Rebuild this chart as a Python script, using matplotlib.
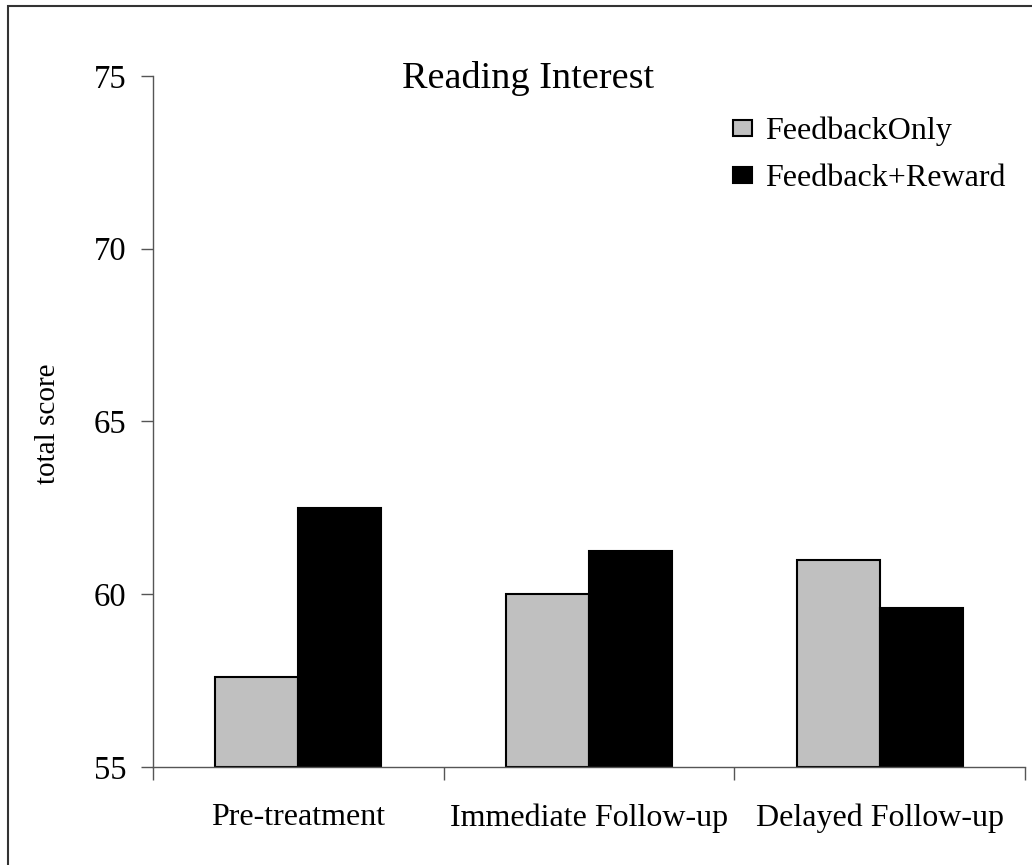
import matplotlib
matplotlib.use("Agg")
import matplotlib.pyplot as plt
from matplotlib.patches import Patch, Rectangle
import numpy as np

categories = ["Pre-treatment", "Immediate Follow-up", "Delayed Follow-up"]
series_names = ["FeedbackOnly", "Feedback+Reward"]
feedback_only = [57.6, 60.0, 61.0]
feedback_reward = [62.5, 61.25, 59.6]
y_ticks = [55, 60, 65, 70, 75]

plt.rcParams['font.family'] = ['Liberation Serif', 'DejaVu Serif']

fig = plt.figure(figsize=(10.32, 8.65), dpi=100)
ax = fig.add_axes([153/1032, 1-767/865, (1025-153)/1032, (767-76)/865])

x = np.arange(len(categories))
w = 1/3.5
ax.bar(x - w/2, np.array(feedback_only) - 55, w, bottom=55, color='#C0C0C0', edgecolor='black', linewidth=1.5)
ax.bar(x + w/2, np.array(feedback_reward) - 55, w, bottom=55, color='black', edgecolor='black', linewidth=1.5)

ax.set_xlim(-0.5, 2.5)
ax.set_ylim(55, 75)
ax.set_yticks(y_ticks)
ax.set_yticklabels([str(v) for v in y_ticks], fontsize=23.5)
ax.set_xticks(x)
ax.set_xticklabels(categories, fontsize=23)
ax.set_xticks([-0.5, 0.5, 1.5, 2.5], minor=True)
ax.tick_params(axis='x', which='major', length=0, pad=26)
ax.tick_params(axis='x', which='minor', length=9, width=1, color='#555555', direction='out')
ax.tick_params(axis='y', which='major', length=9, width=1, color='#555555', direction='out', pad=10)
for s in ['top', 'right']:
    ax.spines[s].set_visible(False)
for s in ['left', 'bottom']:
    ax.spines[s].set_color('#555555')
    ax.spines[s].set_linewidth(1)

fig.text(528/1032, 1-78/865, "Reading Interest", fontsize=27.5, ha='center', va='center')
fig.text(48/1032, 1-424/865, "total score", fontsize=21, ha='center', va='center', rotation=90)

handles = [Patch(facecolor='#C0C0C0', edgecolor='black', linewidth=1.5),
           Patch(facecolor='black', edgecolor='black', linewidth=1.5)]
fig.legend(handles, series_names, loc='upper left', bbox_to_anchor=(733/1032, 1-117/865),
           frameon=False, fontsize=23, handlelength=0.6, handleheight=0.4,
           handletextpad=0.4, labelspacing=0.55, borderpad=0, borderaxespad=0)

fig.patches.append(Rectangle((8/1032, -0.1), 1.2, 1.1 - 6/865, transform=fig.transFigure,
                             fill=False, edgecolor='#333333', linewidth=1.5))

fig.savefig("out.png", dpi=100)
